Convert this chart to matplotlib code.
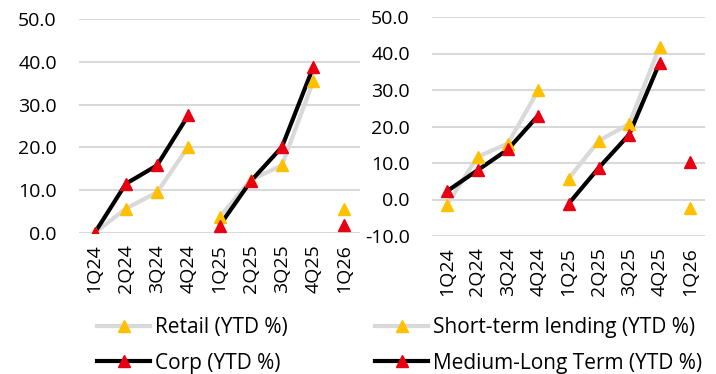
import numpy as np
from matplotlib import pyplot as plt
from matplotlib.lines import Line2D

plt.rcParams['font.family'] = ['Open Sans', 'DejaVu Sans']

quarters = ["1Q24", "2Q24", "3Q24", "4Q24", "1Q25", "2Q25", "3Q25", "4Q25", "1Q26"]

retail = [0.0, 5.7, 9.5, 20.2, 3.7, 12.4, 15.8, 35.4, 5.7]
corp = [0.0, 11.5, 15.8, 27.5, 1.7, 12.1, 20.1, 38.7, 1.9]

short_term = [-1.4, 11.7, 15.3, 29.9, 5.7, 16.1, 20.7, 41.8, -2.3]
medium_long = [2.3, 8.0, 13.7, 23.0, -1.2, 8.7, 17.8, 37.4, 10.3]

GREY = '#d9d9d9'
YELLOW = '#ffc000'
RED = '#e60012'
FS = 14
LEG_FS = 15

# each year is its own run of points; 1Q26 stands alone
segments = [(0, 4), (4, 8), (8, 9)]


def DrawSeries(ax, values, lineColor, markerColor):
    x = np.arange(len(values))
    y = np.asarray(values)
    for a, b in segments:
        ax.plot(x[a:b], y[a:b], color=lineColor, lw=3, solid_capstyle='butt', zorder=2)
    ax.plot(x, y, ls='none', marker='^', ms=9, color=markerColor, mec=markerColor, zorder=3)


def StyleAxis(ax, ylim, yticks):
    ax.set_xlim(-0.5, len(quarters) - 0.5)
    ax.set_ylim(*ylim)
    ax.set_yticks(yticks)
    ax.set_yticklabels([f"{v:.1f}" for v in yticks], fontsize=FS)
    ax.set_xticks(np.arange(len(quarters)))
    ax.set_xticklabels(quarters, rotation=90, fontsize=FS)
    ax.tick_params(axis='y', length=0, pad=16)
    ax.tick_params(axis='x', length=0, pad=8)
    ax.grid(axis='y', color=GREY, lw=1.5, zorder=0)
    ax.set_axisbelow(True)
    for s in ax.spines.values():
        s.set_visible(False)


def Legend(fig, x, labels):
    handles = [
        Line2D([], [], color=GREY, lw=3, marker='^', ms=9, mfc=YELLOW, mec=YELLOW),
        Line2D([], [], color='black', lw=3, marker='^', ms=9, mfc=RED, mec=RED),
    ]
    fig.legend(handles, labels, loc='upper left', bbox_to_anchor=(x, 1 - 317 / 374),
               frameon=False, fontsize=LEG_FS, handlelength=2.55, handletextpad=0.22,
               labelspacing=0.7, borderpad=0, borderaxespad=0, numpoints=1)


fig = plt.figure(figsize=(7.16, 3.74), dpi=100)

axL = fig.add_axes([79 / 716, 1 - 233 / 374, 281 / 716, 214 / 374])
DrawSeries(axL, retail, GREY, YELLOW)
DrawSeries(axL, corp, 'black', RED)
StyleAxis(axL, (0, 50), [0, 10, 20, 30, 40, 50])

axR = fig.add_axes([432 / 716, 1 - 236 / 374, 273 / 716, 219 / 374])
DrawSeries(axR, short_term, GREY, YELLOW)
DrawSeries(axR, medium_long, 'black', RED)
StyleAxis(axR, (-10, 50), [-10, 0, 10, 20, 30, 40, 50])

Legend(fig, 97 / 716, ["Retail (YTD %)", "Corp (YTD %)"])
Legend(fig, 375 / 716, ["Short-term lending (YTD %)", "Medium-Long Term (YTD %)"])

fig.savefig("out.png", dpi=100)
